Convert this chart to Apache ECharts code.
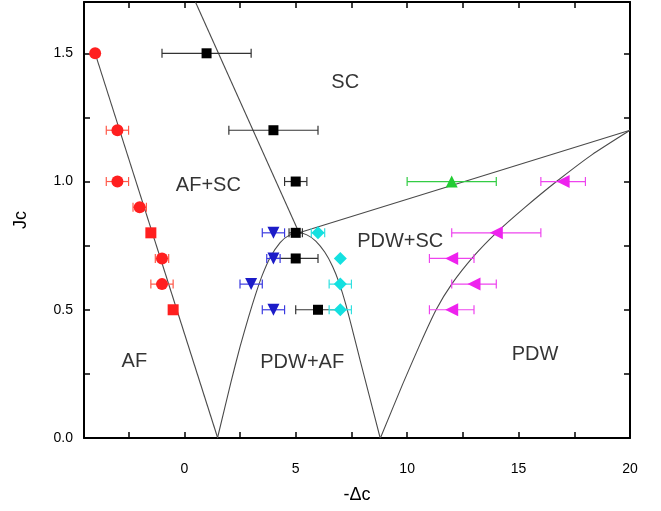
<!DOCTYPE html>
<html><head><meta charset="utf-8">
<script src="https://cdn.jsdelivr.net/npm/echarts@6/dist/echarts.min.js"></script>
<style>html,body{margin:0;padding:0;background:#fff}#c{width:661px;height:511px}</style>
</head><body><div id="c"></div>
<script>
// ---- axis ticks / labels ----
const xTickValues = [-2.5, 0, 2.5, 5, 7.5, 10, 12.5, 15, 17.5, 20];
const xLabelValues = [0, 5, 10, 15, 20];
const yTickValues = [0, 0.25, 0.5, 0.75, 1.0, 1.25, 1.5];
const yLabelValues = [0, 0.5, 1.0, 1.5];

// ---- phase boundaries [x, y] ----
const afLine = [[-4, 1.5], [1.5, 0]];
const scLine = [[0.5, 1.7], [5.15, 0.8]];
const scPdwLine = [[5.15, 0.8], [20, 1.2]];
const domeCurve = [[1.49, 0], [2.1, 0.22], [2.5, 0.355], [2.88, 0.47], [3.2, 0.56], [3.5, 0.635], [3.86, 0.705], [4.3, 0.762], [4.7, 0.79], [5.13, 0.8], [5.5, 0.792], [5.9, 0.768], [6.3, 0.725], [6.65, 0.67], [6.95, 0.605], [7.25, 0.52], [7.55, 0.42], [7.9, 0.3], [8.3, 0.165], [8.79, 0]];
const pdwCurve = [[8.8, 0], [9.8, 0.21], [10.6, 0.37], [11.3, 0.5], [12.0, 0.6], [13.0, 0.71], [14.0, 0.8], [15.3, 0.9], [16.7, 1.0], [18.3, 1.105], [20, 1.2]];

// ---- data points [x, y, x-error] ----
const afCircles = [[-4, 1.5, 0], [-3, 1.2, 0.5], [-3, 1.0, 0.5], [-2, 0.9, 0.3], [-1, 0.7, 0.3], [-1, 0.6, 0.5]];
const afSquares = [[-1.5, 0.8, 0], [-0.5, 0.5, 0]];
const scPts = [[1, 1.5, 2], [4, 1.2, 2], [5, 1.0, 0.5], [5, 0.8, 0.3], [5, 0.7, 1], [6, 0.5, 1]];
const pdwAfPts = [[4, 0.8, 0.5], [4, 0.7, 0.3], [3, 0.6, 0.5], [4, 0.5, 0.5]];
const cyanPts = [[6, 0.8, 0.3], [7, 0.7, 0], [7, 0.6, 0.5], [7, 0.5, 0.5]];
const greenPts = [[12, 1.0, 2]];
const magentaPts = [[17, 1.0, 1], [14, 0.8, 2], [12, 0.7, 1], [13, 0.6, 1], [12, 0.5, 1]];

// ---- region labels ----
const regionNames = ['SC', 'AF+SC', 'PDW+SC', 'PDW+AF', 'PDW', 'AF'];
const regionX = [7.22, 1.08, 9.69, 5.29, 15.74, -2.24];
const regionY = [1.387, 0.984, 0.766, 0.293, 0.324, 0.297];

const chart = echarts.init(document.getElementById('c'), null, {renderer: 'canvas'});

function errSeries(data, color) {
  return {
    type: 'custom', data: data, z: 3, silent: true,
    encode: {x: 0, y: 1},
    renderItem: function (params, api) {
      const x = api.value(0), y = api.value(1), e = api.value(2);
      if (!e) return null;
      const a = api.coord([x - e, y]), b = api.coord([x + e, y]);
      const h = 4.5;
      const st = {stroke: color, lineWidth: 1.2};
      return {type: 'group', children: [
        {type: 'line', shape: {x1: a[0], y1: a[1], x2: b[0], y2: b[1]}, style: st},
        {type: 'line', shape: {x1: a[0], y1: a[1] - h, x2: a[0], y2: a[1] + h}, style: st},
        {type: 'line', shape: {x1: b[0], y1: b[1] - h, x2: b[0], y2: b[1] + h}, style: st}
      ]};
    }
  };
}
function markSeries(data, color, symbol, size, rot) {
  return {type: 'scatter', data: data.map(d => [d[0], d[1]]), symbol: symbol, symbolSize: size,
    symbolRotate: rot || 0, itemStyle: {color: color, opacity: 1}, z: 5, silent: true};
}
function lineSeries(data, smooth) {
  return {type: 'line', data: data, showSymbol: false, symbol: 'none', smooth: smooth || false,
    lineStyle: {color: '#4a4a4a', width: 1.1}, z: 2, silent: true};
}

const RED = '#ff1f1f', BLACK = '#000000', BLUE = '#1c1cc8', CYAN = '#14e0e0', GREEN = '#22cc33', MAG = '#ee22ee';

const tickStyle = {show: true, inside: true, length: 6, lineStyle: {color: '#000', width: 1.5}};
const axisLine = {show: true, onZero: false, lineStyle: {color: '#000', width: 2}};

const option = {
  backgroundColor: '#fff',
  animation: false,
  grid: {left: 84, right: 31, top: 2, bottom: 73, containLabel: false, outerBoundsMode: 'none'},
  xAxis: [{
    type: 'value', min: -4.5, max: 20, position: 'bottom',
    name: '-Δc', nameLocation: 'middle', nameGap: 48,
    nameTextStyle: {fontFamily: 'Liberation Sans, Arial', fontSize: 18, color: '#000'},
    axisLine: axisLine, splitLine: {show: false},
    axisTick: Object.assign({customValues: xTickValues}, tickStyle),
    axisLabel: {customValues: xLabelValues, margin: 24, fontFamily: 'Liberation Sans, Arial', fontSize: 14, color: '#000',
      formatter: v => String(v)}
  }, {
    type: 'value', min: -4.5, max: 20, position: 'top',
    axisLine: axisLine, splitLine: {show: false},
    axisTick: Object.assign({customValues: xTickValues}, tickStyle),
    axisLabel: {show: false}
  }],
  yAxis: [{
    type: 'value', min: 0, max: 1.7, position: 'left',
    name: 'Jc', nameLocation: 'middle', nameGap: 54, nameRotate: 90,
    nameTextStyle: {fontFamily: 'Liberation Sans, Arial', fontSize: 18, color: '#000'},
    axisLine: axisLine, splitLine: {show: false},
    axisTick: Object.assign({customValues: yTickValues}, tickStyle),
    axisLabel: {customValues: yLabelValues, margin: 11, fontFamily: 'Liberation Sans, Arial', fontSize: 14, color: '#000',
      formatter: v => v.toFixed(1)}
  }, {
    type: 'value', min: 0, max: 1.7, position: 'right',
    axisLine: axisLine, splitLine: {show: false},
    axisTick: Object.assign({customValues: yTickValues}, tickStyle),
    axisLabel: {show: false}
  }],
  series: [
    lineSeries(afLine),
    lineSeries(scLine),
    lineSeries(scPdwLine),
    lineSeries(domeCurve, 0.2),
    lineSeries(pdwCurve, 0.2),
    errSeries(afCircles, '#ff5a4a'),
    errSeries(scPts, '#333333'),
    errSeries(pdwAfPts, '#3a3ae0'),
    errSeries(cyanPts, '#30e0e0'),
    errSeries(greenPts, '#33cc44'),
    errSeries(magentaPts, '#ee44ee'),
    markSeries(afCircles, RED, 'circle', 12),
    markSeries(afSquares, RED, 'rect', 11),
    markSeries(scPts, BLACK, 'rect', 10),
    markSeries(pdwAfPts, BLUE, 'triangle', 12, 180),
    markSeries(cyanPts, CYAN, 'diamond', 13),
    markSeries(greenPts, GREEN, 'triangle', 12),
    markSeries(magentaPts, MAG, 'triangle', 13, 90),
    {
      type: 'scatter', symbolSize: 0, z: 6, silent: true,
      data: regionNames.map((n, i) => ({name: n, value: [regionX[i], regionY[i]]})),
      label: {show: true, position: 'inside', formatter: p => p.name,
        fontFamily: 'Liberation Sans, Arial', fontSize: 20, color: '#000'}
    }
  ]
};
chart.setOption(option);
</script>
</body></html>
